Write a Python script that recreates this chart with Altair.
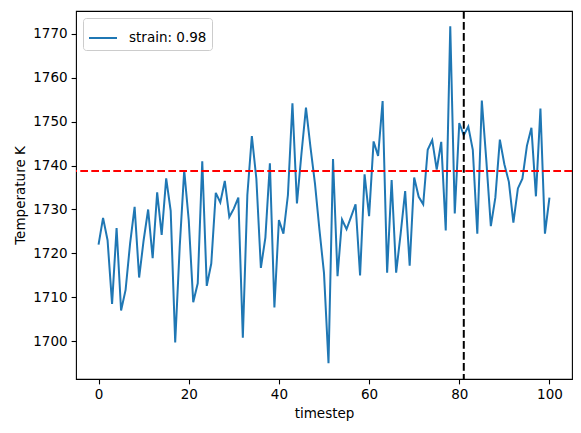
import altair as alt
import pandas as pd

timestep = list(range(101))
temperature = [
    1722.0, 1728.1, 1723.0, 1708.5, 1725.8, 1707.0, 1711.7, 1722.3, 1730.6, 1714.5,
    1723.0, 1730.0, 1718.9, 1733.9, 1724.2, 1737.1, 1729.7, 1699.7, 1721.5, 1738.9,
    1727.6, 1708.9, 1713.2, 1741.0, 1712.6, 1717.7, 1733.8, 1731.6, 1736.5, 1728.3,
    1730.2, 1732.7, 1700.8, 1733.3, 1746.7, 1737.0, 1716.7, 1723.6, 1740.5, 1707.7,
    1727.6, 1724.5, 1733.3, 1754.2, 1731.4, 1742.7, 1753.2, 1744.2, 1735.9, 1725.3,
    1715.5, 1695.0, 1741.5, 1714.8, 1727.7, 1725.5, 1728.3, 1731.2, 1715.0, 1738.0,
    1728.5, 1745.5, 1742.2, 1754.7, 1715.6, 1736.7, 1715.6, 1724.5, 1734.2, 1717.2,
    1737.3, 1732.9, 1731.2, 1743.6, 1745.8, 1739.1, 1745.4, 1725.2, 1771.7, 1729.1,
    1749.7, 1746.9, 1748.9, 1743.6, 1724.5, 1754.8, 1741.2, 1726.2, 1732.7, 1745.9,
    1740.3, 1736.3, 1727.0, 1734.8, 1737.0, 1744.5, 1748.6, 1733.0, 1753.0, 1724.5,
    1732.7,
]
series_label = ["strain: 0.98"]
mean_temperature = [1738.75]
marker_timestep = [81]
x_ticks = [0, 20, 40, 60, 80, 100]
y_ticks = [1700, 1710, 1720, 1730, 1740, 1750, 1760, 1770]

df = pd.DataFrame({
    "timestep": timestep,
    "Temperature": temperature,
    "series": series_label * len(timestep),
})
hdf = pd.DataFrame({"Temperature": mean_temperature})
vdf = pd.DataFrame({"timestep": marker_timestep})

xscale = alt.Scale(domain=[-5, 105], nice=False, zero=False)
yscale = alt.Scale(domain=[1691.4, 1775.2], nice=False, zero=False)

line = alt.Chart(df).mark_line(strokeWidth=2).encode(
    x=alt.X("timestep:Q", scale=xscale,
            axis=alt.Axis(title="timestep", values=x_ticks, format="d")),
    y=alt.Y("Temperature:Q", scale=yscale,
            axis=alt.Axis(title="Temperature K", values=y_ticks, format="d")),
    color=alt.Color(
        "series:N",
        scale=alt.Scale(domain=series_label, range=["#1f77b4"]),
        legend=alt.Legend(
            title=None, orient="top-left", offset=7,
            symbolType="stroke", symbolSize=784, symbolStrokeWidth=2,
            labelFontSize=13.5, labelFont="DejaVu Sans", labelColor="black",
            labelOffset=11, padding=5,
            strokeColor="#cccccc", fillColor="white", cornerRadius=3,
        ),
    ),
)

hrule = alt.Chart(hdf).mark_rule(
    color="#ff0000", strokeWidth=2, strokeDash=[7.7, 3.3]
).encode(y=alt.Y("Temperature:Q", scale=yscale))

vrule = alt.Chart(vdf).mark_rule(
    color="black", strokeWidth=2, strokeDash=[7.7, 3.3]
).encode(x=alt.X("timestep:Q", scale=xscale))

chart = alt.layer(line, hrule, vrule).properties(
    width=496, height=368,
    background="white",
    autosize=alt.AutoSizeParams(type="none"),
    padding={"left": 68, "top": 3, "right": 1, "bottom": 46},
).configure_view(
    stroke="black", strokeWidth=1.1
).configure_axis(
    grid=False, domain=False,
    tickColor="black", tickSize=4.9, tickWidth=1.1,
    labelFont="DejaVu Sans", labelFontSize=13.5, labelColor="black",
    labelPadding=4, titleFont="DejaVu Sans", titleFontSize=13.5,
    titleFontWeight="normal", titleColor="black", titlePadding=5,
)

chart.save("out.html", embed_options={"renderer": "svg", "actions": False})
